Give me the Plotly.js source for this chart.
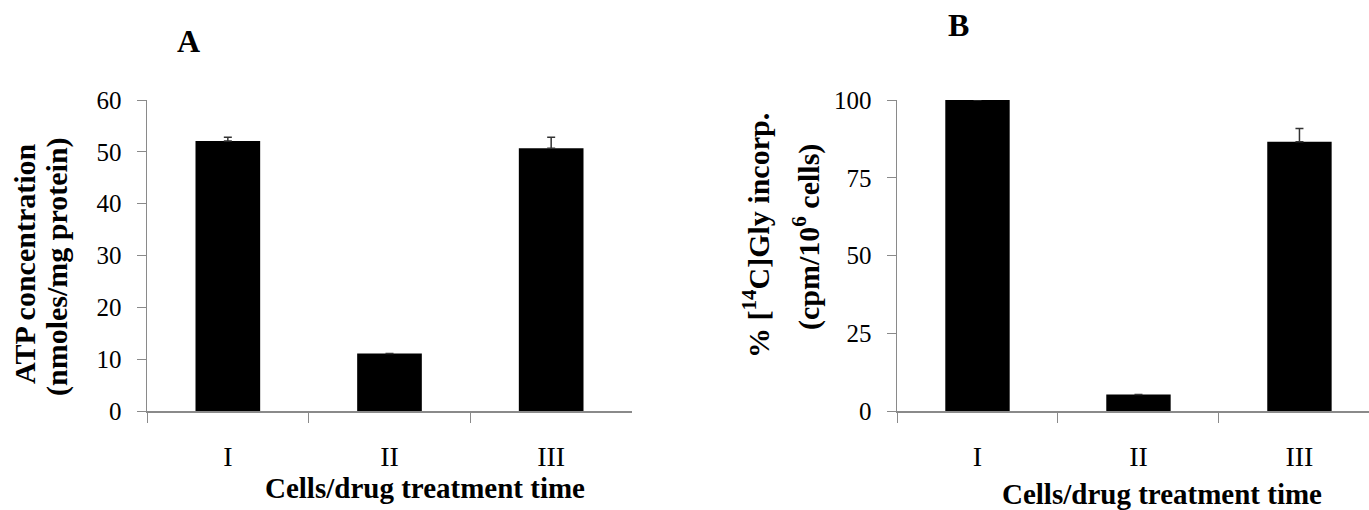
<!DOCTYPE html>
<html>
<head>
<meta charset="utf-8">
<script src="https://cdn.plot.ly/plotly-3.0.1.min.js"></script>
<style>html,body{margin:0;padding:0;background:#fff;}#chart{width:1369px;height:510px;}</style>
</head>
<body>
<div id="chart"></div>
<script>
// ---- data ----
const categories = ["I", "II", "III"];
const atpValues = [52.1, 11.1, 50.7];
const atpErrors = [0.7, 0, 2.1];
const glyValues = [100, 5.3, 86.6];
const glyErrors = [0, 0, 4.2];
const atpTicks = [0, 10, 20, 30, 40, 50, 60];
const glyTicks = [0, 25, 50, 75, 100];

const serif = '"Liberation Serif", "Times New Roman", serif';
const axisGray = '#8a8a8a';

function barTrace(vals, errs, xa, ya) {
  return {
    type: 'bar', x: categories, y: vals, xaxis: xa, yaxis: ya,
    marker: {color: '#000', line: {color: '#000', width: 0}},
    error_y: {type: 'data', array: errs, arrayminus: errs.map(() => 0), symmetric: false,
              visible: true, color: '#333', thickness: 1.5, width: 4},
    hoverinfo: 'skip', showlegend: false
  };
}

const data = [
  barTrace(atpValues, atpErrors, 'x', 'y'),
  barTrace(glyValues, glyErrors, 'x2', 'y2')
];

const yDomain = [99 / 510, 410 / 510];

function xAxis(domain, range, anchor) {
  return {
    domain: domain, range: range, anchor: anchor, type: 'category',
    tickson: 'boundaries', ticks: 'outside', ticklen: 10, tickwidth: 1, tickcolor: axisGray,
    showline: true, linecolor: axisGray, linewidth: 1.5,
    showgrid: false, zeroline: false, fixedrange: true,
    tickfont: {family: serif, size: 28, color: '#000'},
    ticklabelstandoff: 20
  };
}
function yAxis(range, tickvals, anchor) {
  return {
    domain: yDomain, range: range, anchor: anchor,
    tickmode: 'array', tickvals: tickvals, ticktext: tickvals.map(String),
    ticks: 'outside', ticklen: 9, tickwidth: 1, tickcolor: axisGray,
    showline: true, linecolor: axisGray, linewidth: 1.5,
    showgrid: false, zeroline: false, fixedrange: true,
    tickfont: {family: serif, size: 25, color: '#000'},
    ticklabelstandoff: 10
  };
}

const titleFont = {family: serif, size: 30, color: '#000'};
function ann(text, x, y, opts) {
  return Object.assign({text: text, xref: 'paper', yref: 'paper', x: x, y: y,
    xanchor: 'center', yanchor: 'middle', showarrow: false, font: titleFont}, opts || {});
}
const W = 1369, H = 510;
const px = (v) => v / W, py = (v) => (H - v) / H;
const xTitleFont = {family: serif, size: 29, color: '#000'};

const layout = {
  width: W, height: H,
  margin: {l: 0, r: 0, t: 0, b: 0},
  paper_bgcolor: '#fff', plot_bgcolor: '#fff',
  bargap: 0.6,
  xaxis: xAxis([147 / W, 632 / W], [-0.5, 2.5], 'y'),
  yaxis: yAxis([0, 60], atpTicks, 'x'),
  xaxis2: xAxis([897 / W, 1], [-0.5, 2.432], 'y2'),
  yaxis2: yAxis([0, 100], glyTicks, 'x2'),
  annotations: [
    ann('<b>A</b>', px(189), py(41), {font: {family: serif, size: 32, color: '#000'}}),
    ann('<b>B</b>', px(958), py(25), {font: {family: serif, size: 32, color: '#000'}}),
    ann('<b>ATP concentration</b>', px(25), py(264), {textangle: -90}),
    ann('<b>(nmoles/mg protein)</b>', px(57), py(267), {textangle: -90}),
    ann('<b>% [<sup>14</sup>C]Gly incorp.</b>', px(756), py(235), {textangle: -90}),
    ann('<b>(cpm/10<sup>6</sup> cells)</b>', px(806), py(237), {textangle: -90}),
    ann('<b>Cells/drug treatment time</b>', px(425), py(488), {font: xTitleFont}),
    ann('<b>Cells/drug treatment time</b>', px(1162), py(494), {font: xTitleFont})
  ]
};

Plotly.newPlot('chart', data, layout, {displayModeBar: false, staticPlot: true});
</script>
</body>
</html>
